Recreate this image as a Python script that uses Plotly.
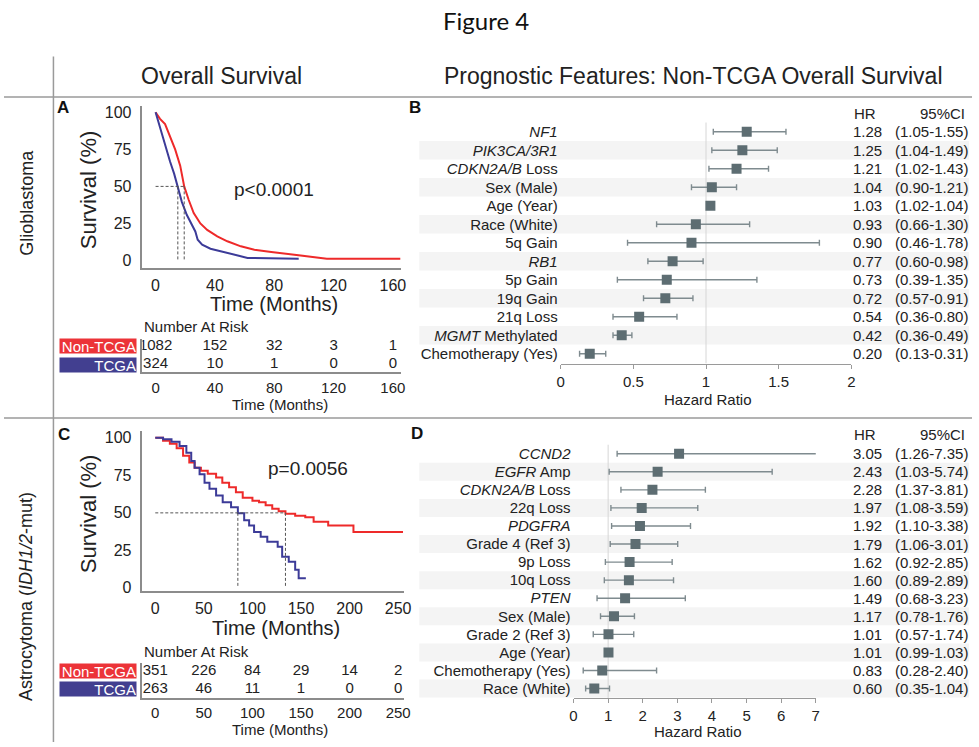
import plotly.graph_objects as go

# ---------------- data ----------------
time_ticks_A = [0, 40, 80, 120, 160]
time_ticks_C = [0, 50, 100, 150, 200, 250]
surv_ticks = [0, 25, 50, 75, 100]

# Glioblastoma KM (Non-TCGA red, TCGA blue)
gbm_nontcga_t = [0, 3, 6.4, 9.8, 13.2, 16.6, 19.3, 22.3, 25.7, 30.2, 34.8, 41.6, 48.4, 57.5, 66.6, 78, 89.3, 103, 115.5, 165]
gbm_nontcga_s = [100, 95.5, 92, 84, 75, 64, 50, 41, 32, 25, 20.7, 16.3, 13, 9.6, 7.3, 5.8, 4.5, 2.9, 1.3, 1.3]
gbm_tcga_t = [0, 2.5, 6.4, 9.8, 12.5, 15, 17.7, 21.1, 24.5, 26.8, 28.4, 31.4, 37, 43.9, 53, 62, 96.5]
gbm_tcga_s = [100, 91, 78, 66.6, 58.6, 50, 39.6, 30.7, 24, 19.6, 14, 10.7, 8, 6.2, 4, 1.8, 1.3]
gbm_median = [19.3, 15.0]          # Non-TCGA, TCGA
gbm_risk_nontcga = [1082, 152, 32, 3, 1]
gbm_risk_tcga = [324, 10, 1, 0, 0]
gbm_p = "p<0.0001"

# Astrocytoma KM
astro_nontcga_t = [0, 8, 15, 22, 28.6, 35, 40.5, 47, 54, 62.6, 69, 76, 83, 90, 100, 106.8, 113.6, 120.4, 127, 134, 144, 154.4, 163, 178, 204, 255]
astro_nontcga_s = [100, 98, 96, 93, 88, 83.5, 80, 78, 76, 73.6, 70, 67, 63.7, 60, 58, 57, 55, 52.7, 51, 49.4, 48, 47, 44, 41.6, 37.3, 37.3]
astro_tcga_t = [0, 8, 16.7, 25, 32, 37, 40.5, 45.6, 50.7, 55.8, 62.6, 69.4, 78, 85, 91.5, 96.6, 101.7, 108.5, 115.3, 126, 130.6, 137.4, 144, 147.6, 155]
astro_tcga_s = [100, 99, 97.4, 94.5, 90, 84.5, 80, 75.8, 70, 66, 61.5, 57, 53.7, 49.8, 45, 41.6, 37.3, 34, 30.7, 27.4, 20.7, 17.4, 12, 6.4, 6.4]
astro_median = [134, 85]
astro_risk_nontcga = [351, 226, 84, 29, 14, 2]
astro_risk_tcga = [263, 46, 11, 1, 0, 0]
astro_p = "p=0.0056"

# Forest B (Glioblastoma)
feat_B = ["<i>NF1</i>", "<i>PIK3CA/3R1</i>", "<i>CDKN2A/B</i> Loss", "Sex (Male)", "Age (Year)",
          "Race (White)", "5q Gain", "<i>RB1</i>", "5p Gain", "19q Gain", "21q Loss",
          "<i>MGMT</i> Methylated", "Chemotherapy (Yes)"]
hr_B = [1.28, 1.25, 1.21, 1.04, 1.03, 0.93, 0.90, 0.77, 0.73, 0.72, 0.54, 0.42, 0.20]
lo_B = [1.05, 1.04, 1.02, 0.90, 1.02, 0.66, 0.46, 0.60, 0.39, 0.57, 0.36, 0.36, 0.13]
hi_B = [1.55, 1.49, 1.43, 1.21, 1.04, 1.30, 1.78, 0.98, 1.35, 0.91, 0.80, 0.49, 0.31]
ticks_B = [0, 0.5, 1, 1.5, 2]

# Forest D (Astrocytoma)
feat_D = ["<i>CCND2</i>", "<i>EGFR</i> Amp", "<i>CDKN2A/B</i> Loss", "22q Loss", "<i>PDGFRA</i>",
          "Grade 4 (Ref 3)", "9p Loss", "10q Loss", "<i>PTEN</i>", "Sex (Male)",
          "Grade 2 (Ref 3)", "Age (Year)", "Chemotherapy (Yes)", "Race (White)"]
hr_D = [3.05, 2.43, 2.28, 1.97, 1.92, 1.79, 1.62, 1.60, 1.49, 1.17, 1.01, 1.01, 0.83, 0.60]
lo_D = [1.26, 1.03, 1.37, 1.08, 1.10, 1.06, 0.92, 0.89, 0.68, 0.78, 0.57, 0.99, 0.28, 0.35]
hi_D = [7.35, 5.74, 3.81, 3.59, 3.38, 3.01, 2.85, 2.89, 3.23, 1.76, 1.74, 1.03, 2.40, 1.04]
ticks_D = [0, 1, 2, 3, 4, 5, 6, 7]

# ---------------- style ----------------
W, H = 979, 747
def px(x): return x / W
def py(y): return 1 - y / H

FONT = "Liberation Sans, Arial, Helvetica, sans-serif"
TXT = "#222222"
RED = "#ee2a2a"
BLUE = "#3c3b98"
RED_BOX = "#ec3338"
BLUE_BOX = "#423f90"
AX = "#8c8c8c"
MK = "#5d6d72"
EB = "#7f8b8f"
BAND = "#f4f4f4"

fig = go.Figure()

# KM curves
fig.add_trace(go.Scatter(x=gbm_nontcga_t, y=gbm_nontcga_s, mode="lines",
                         line=dict(color=RED, width=2), xaxis="x", yaxis="y"))
fig.add_trace(go.Scatter(x=gbm_tcga_t, y=gbm_tcga_s, mode="lines",
                         line=dict(color=BLUE, width=2), xaxis="x", yaxis="y"))
fig.add_trace(go.Scatter(x=astro_nontcga_t, y=astro_nontcga_s, mode="lines", line_shape="hv",
                         line=dict(color=RED, width=2), xaxis="x3", yaxis="y3"))
fig.add_trace(go.Scatter(x=astro_tcga_t, y=astro_tcga_s, mode="lines", line_shape="hv",
                         line=dict(color=BLUE, width=2), xaxis="x3", yaxis="y3"))

# median dashed lines
for med, xa, ya in [(gbm_median, "x", "y"), (astro_median, "x3", "y3")]:
    fig.add_trace(go.Scatter(x=[0, max(med)], y=[50, 50], mode="lines",
                             line=dict(color="#555", width=1, dash="3px,2px"), xaxis=xa, yaxis=ya))
    for m in med:
        fig.add_trace(go.Scatter(x=[m, m], y=[50, 0], mode="lines",
                                 line=dict(color="#555", width=1, dash="3px,2px"), xaxis=xa, yaxis=ya))

# number at risk tables
for ticks, r1, r2, xa, ya in [(time_ticks_A, gbm_risk_nontcga, gbm_risk_tcga, "x2", "y2"),
                              (time_ticks_C, astro_risk_nontcga, astro_risk_tcga, "x4", "y4")]:
    fig.add_trace(go.Scatter(x=ticks, y=[1] * len(ticks), text=[str(v) for v in r1], mode="text",
                             textfont=dict(family=FONT, size=15, color=TXT), xaxis=xa, yaxis=ya))
    fig.add_trace(go.Scatter(x=ticks, y=[0] * len(ticks), text=[str(v) for v in r2], mode="text",
                             textfont=dict(family=FONT, size=15, color=TXT), xaxis=xa, yaxis=ya))

# forest plots
for hr, lo, hi, xa, ya in [(hr_B, lo_B, hi_B, "x5", "y5"), (hr_D, lo_D, hi_D, "x6", "y6")]:
    fig.add_trace(go.Scatter(
        x=hr, y=list(range(len(hr))), mode="markers",
        marker=dict(symbol="square", size=10, color=MK),
        error_x=dict(type="data", symmetric=False,
                     array=[h - r for h, r in zip(hi, hr)],
                     arrayminus=[r - l for r, l in zip(hr, lo)],
                     color=EB, thickness=1.4, width=3),
        xaxis=xa, yaxis=ya))

# ---------------- axes ----------------
km_ax = dict(showline=True, linecolor=AX, linewidth=1.5, showgrid=False, zeroline=False,
             ticks="", tickfont=dict(family=FONT, size=16, color=TXT), fixedrange=True)

# A: 0 months at 153.3 px, 1.5 px/month; 100% at 111.3, 0% at 261
xA = dict(km_ax, domain=[px(140), px(402)], range=[(140 - 153.3) / 1.5, (402 - 153.3) / 1.5],
          tickvals=time_ticks_A, ticklabelstandoff=2)
yA = dict(km_ax, domain=[py(268.3), py(105)], range=[(261 - 268.3) / 1.497, (261 - 105) / 1.497],
          tickvals=surv_ticks, ticklabelstandoff=6)
# C: 0 months at 153 px, 0.9825 px/month; 100% at 440, 0% at 591.4
xC = dict(km_ax, domain=[px(140), px(405)], range=[(140 - 153) / 0.9825, (405 - 153) / 0.9825],
          tickvals=time_ticks_C, ticklabelstandoff=2)
yC = dict(km_ax, domain=[py(595), py(433)], range=[(591.4 - 595) / 1.514, (591.4 - 433) / 1.514],
          tickvals=surv_ticks, ticklabelstandoff=6)

tab_x = dict(showline=True, linecolor=AX, linewidth=1.5, showgrid=False, zeroline=False, ticks="",
             tickfont=dict(family=FONT, size=15, color=TXT), fixedrange=True, ticklabelstandoff=1)
tab_y = dict(showline=True, linecolor=AX, linewidth=1.5, showgrid=False, zeroline=False,
             showticklabels=False, ticks="", fixedrange=True)

xA_t = dict(tab_x, domain=xA["domain"], range=xA["range"], tickvals=time_ticks_A)
yA_t = dict(tab_y, domain=[py(374), py(340)], range=[-(374 - 366) / 18.3, 1 + (347.7 - 340) / 18.3])
xC_t = dict(tab_x, domain=xC["domain"], range=xC["range"], tickvals=time_ticks_C)
yC_t = dict(tab_y, domain=[py(702.3), py(667)], range=[-(702.3 - 694) / 18.3, 1 + (675.7 - 667) / 18.3])

fx = dict(showline=True, linecolor="#9a9a9a", linewidth=1.2, showgrid=False, zeroline=False,
          ticks="outside", ticklen=4, tickcolor="#9a9a9a", tickwidth=1,
          tickfont=dict(family=FONT, size=15, color=TXT), fixedrange=True)
fy = dict(showline=False, showgrid=False, zeroline=False, ticks="",
          tickfont=dict(family=FONT, size=15, color=TXT), fixedrange=True, ticklabelstandoff=2)

xB = dict(fx, domain=[px(563), px(857)], range=[0, 2], tickvals=ticks_B,
          ticktext=[("%g" % v) for v in ticks_B])
yB = dict(fy, domain=[py(365), py(120)], range=[12.53, -0.589],
          tickvals=list(range(len(feat_B))), ticktext=feat_B)
xD = dict(fx, domain=[px(576), px(821)], range=[0, 7], tickvals=ticks_D)
yD = dict(fy, domain=[py(702.7), py(446)], range=[13.53, -0.549],
          tickvals=list(range(len(feat_D))), ticktext=feat_D)

fig.update_layout(
    width=W, height=H, margin=dict(l=0, r=0, t=0, b=0), autosize=False,
    paper_bgcolor="white", plot_bgcolor="rgba(0,0,0,0)", showlegend=False,
    xaxis=dict(xA, anchor="y"), yaxis=dict(yA, anchor="x"),
    xaxis2=dict(xA_t, anchor="y2"), yaxis2=dict(yA_t, anchor="x2"),
    xaxis3=dict(xC, anchor="y3"), yaxis3=dict(yC, anchor="x3"),
    xaxis4=dict(xC_t, anchor="y4"), yaxis4=dict(yC_t, anchor="x4"),
    xaxis5=dict(xB, anchor="y5"), yaxis5=dict(yB, anchor="x5"),
    xaxis6=dict(xD, anchor="y6"), yaxis6=dict(yD, anchor="x6"),
)

# ---------------- shapes ----------------
shapes = []
line_c = "#9a9a9a"
shapes.append(dict(type="line", xref="paper", yref="paper", x0=0, x1=1, y0=py(96), y1=py(96),
                   line=dict(color=line_c, width=1.5)))
shapes.append(dict(type="line", xref="paper", yref="paper", x0=0, x1=1, y0=py(420), y1=py(420),
                   line=dict(color=line_c, width=1.5)))
shapes.append(dict(type="line", xref="paper", yref="paper", x0=px(50), x1=px(50), y0=py(55), y1=0,
                   line=dict(color=line_c, width=1.5)))
for n, yr in [(len(feat_B), "y5"), (len(feat_D), "y6")]:
    for i in range(1, n, 2):
        shapes.append(dict(type="rect", xref="paper", yref=yr, x0=px(420), x1=px(976),
                           y0=i - 0.5, y1=i + 0.5, fillcolor=BAND, line=dict(width=0), layer="below"))
shapes.append(dict(type="line", xref="x5", yref="y5", x0=1, x1=1, y0=-0.5, y1=12.53,
                   line=dict(color="#d6d6d6", width=1), layer="below"))
shapes.append(dict(type="line", xref="x6", yref="y6", x0=1, x1=1, y0=-0.5, y1=13.53,
                   line=dict(color="#d6d6d6", width=1), layer="below"))
fig.update_layout(shapes=shapes)

# ---------------- annotations ----------------
ann = []
def txt(x, y, s, size=15, xanchor="center", yanchor="middle", color=TXT, family=FONT, **kw):
    d = dict(x=px(x), y=py(y), xref="paper", yref="paper", text=s, showarrow=False,
             font=dict(family=family, size=size, color=color), xanchor=xanchor, yanchor=yanchor)
    d.update(kw)
    ann.append(d)

txt(487, 19, "Figure 4", size=24, family="Lato, Open Sans, sans-serif", color="#111")
txt(220, 75, "Overall Survival", size=23)
txt(697, 75, "Prognostic Features: Non-TCGA Overall Survival", size=23)
txt(23, 203, "Glioblastoma", size=18, textangle=-90)
txt(23, 600, "Astrocytoma (<i>IDH1/2</i>-mut)", size=18, textangle=-90)

for x, y, s in [(60, 106, "A"), (416, 106, "B"), (61, 437, "C"), (418, 436, "D")]:
    txt(x, y, "<b>%s</b>" % s, size=17, color="#111")

# KM text
txt(85, 190, "Survival (%)", size=22, textangle=-90)
txt(85, 517, "Survival (%)", size=22, textangle=-90)
txt(273, 305, "Time (Months)", size=20)
txt(275, 632, "Time (Months)", size=20)
txt(273, 189, gbm_p, size=19)
txt(307, 471, astro_p, size=19)

# tables
for ytop, ya, yt in [(328, "y2", 406), (655.5, "y4", 734)]:
    txt(140, ytop, "Number At Risk", size=15, xanchor="left")
    txt(279, yt, "Time (Months)", size=15)
    for lab, val, bg in [("Non-TCGA", 1, RED_BOX), ("TCGA", 0, BLUE_BOX)]:
        ann.append(dict(x=px(135), y=val, xref="paper", yref=ya, text=lab, showarrow=False,
                        xanchor="right", yanchor="middle", align="right", bgcolor=bg,
                        width=76, height=14, borderpad=0,
                        font=dict(family=FONT, size=15, color="white")))

# HR / CI columns
for feats, hr, lo, hi, ya, yhdr in [
        (feat_B, hr_B, lo_B, hi_B, "y5", 113),
        (feat_D, hr_D, lo_D, hi_D, "y6", 437)]:
    xhr, xci = 873, 938
    txt(xhr - 2, yhdr, "HR", size=15)
    txt(974, yhdr, "95%CI", size=15, xanchor="right")
    for i in range(len(hr)):
        ann.append(dict(x=px(xhr), y=i, xref="paper", yref=ya, text="%.2f" % hr[i], showarrow=False,
                        xanchor="center", yanchor="middle",
                        font=dict(family=FONT, size=15, color=TXT)))
        ann.append(dict(x=px(xci), y=i, xref="paper", yref=ya, text="(%.2f-%.2f)" % (lo[i], hi[i]),
                        showarrow=False, xanchor="center", yanchor="middle",
                        font=dict(family=FONT, size=15, color=TXT)))

txt(712, 401, "Hazard Ratio", size=15)
txt(702, 736, "Hazard Ratio", size=15)

fig.update_layout(annotations=ann)

fig.write_html("out.html", config={"displayModeBar": False},
               post_script="document.body.style.margin='0';document.body.style.overflow='hidden';")
